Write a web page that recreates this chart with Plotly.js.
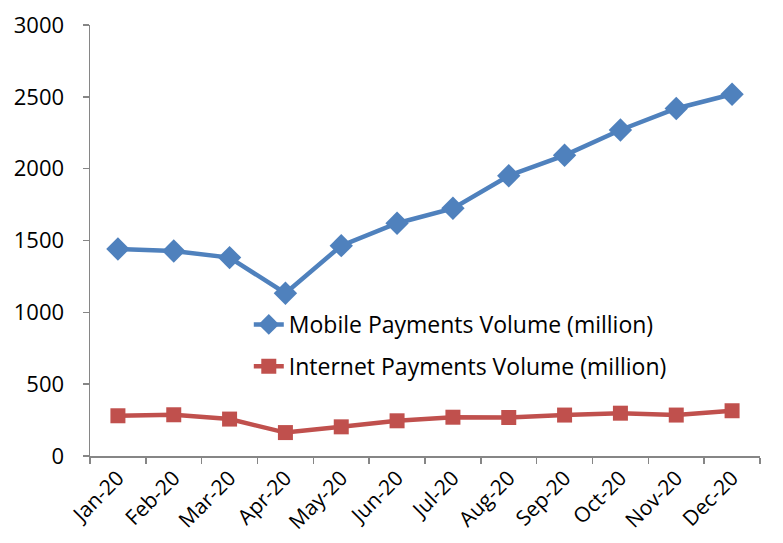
<!DOCTYPE html>
<html>
<head>
<meta charset="utf-8">
<script src="https://cdn.plot.ly/plotly-3.0.1.min.js"></script>
<style>html,body{margin:0;padding:0;background:#fff;}#chart{width:783px;height:543px;}</style>
</head>
<body>
<div id="chart"></div>
<script>
const months = ["Jan-20","Feb-20","Mar-20","Apr-20","May-20","Jun-20","Jul-20","Aug-20","Sep-20","Oct-20","Nov-20","Dec-20"];
const mobileVolume = [1441, 1427, 1381, 1133, 1464, 1620, 1724, 1951, 2093, 2269, 2419, 2518];
const internetVolume = [280, 287, 257, 163, 203, 245, 270, 268, 285, 298, 285, 315];
const seriesNames = ["Mobile Payments Volume (million)", "Internet Payments Volume (million)"];
const yTicks = [0, 500, 1000, 1500, 2000, 2500, 3000];

const fontFam = "Open Sans, Liberation Sans, sans-serif";
const traces = [
  {x: months, y: mobileVolume, name: seriesNames[0], legendgroup: "a", type: "scatter", mode: "lines+markers",
   line: {color: "#4F81BD", width: 4.5}, marker: {symbol: "diamond", size: 18, color: "#4F81BD"}},
  {x: months, y: internetVolume, name: seriesNames[1], legendgroup: "b", type: "scatter", mode: "lines+markers",
   line: {color: "#C0504D", width: 4.5}, marker: {symbol: "square", size: 15, color: "#C0504D"}}
];
const layout = {
  width: 783, height: 543,
  margin: {l: 90, r: 23, t: 25, b: 87},
  paper_bgcolor: "#fff", plot_bgcolor: "#fff",
  font: {family: fontFam, size: 22, color: "#000"},
  showlegend: true,
  legend: {x: 0.237, y: 0.355, xanchor: "left", yanchor: "top", bgcolor: "rgba(0,0,0,0)",
           traceorder: "grouped", tracegroupgap: 9,
           font: {family: fontFam, size: 23, color: "#000"}},
  xaxis: {type: "category", showgrid: false, zeroline: false, showline: true, linecolor: "#868686", linewidth: 1.5,
          ticks: "outside", tickson: "boundaries", ticklen: 6, tickcolor: "#868686", tickwidth: 1.5,
          tickangle: -45, tickfont: {family: fontFam, size: 21}, range: [-0.5, 11.5]},
  yaxis: {range: [0, 3000], tickvals: yTicks, showgrid: false, zeroline: false, showline: true,
          linecolor: "#868686", linewidth: 1.5, ticks: "outside", ticklen: 6, tickcolor: "#868686", tickwidth: 1.5,
          ticklabelstandoff: 14, tickfont: {family: fontFam, size: 22}}
};
Plotly.newPlot("chart", traces, layout, {displayModeBar: false, staticPlot: true});
</script>
</body>
</html>
